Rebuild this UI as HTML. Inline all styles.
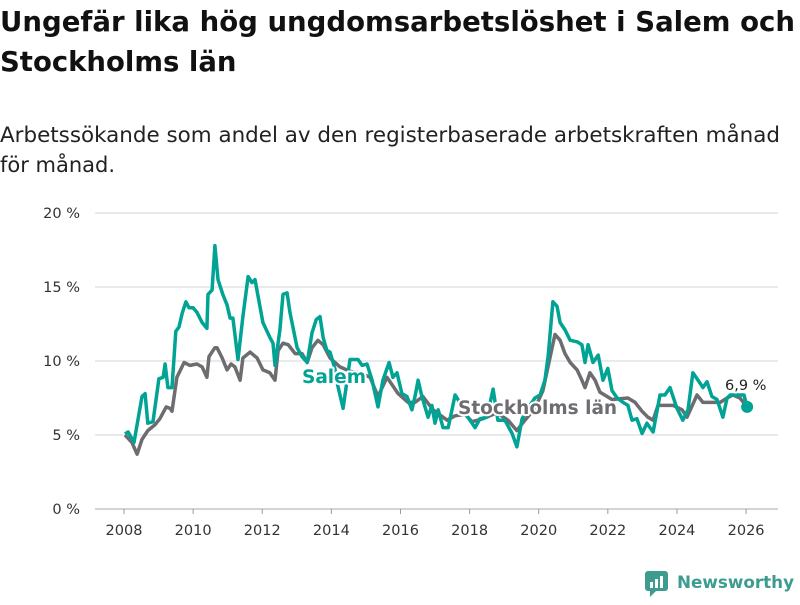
<!DOCTYPE html>
<html><head><meta charset="utf-8"><style>
body{margin:0;background:#fff;width:800px;height:600px;overflow:hidden;font-family:"Liberation Sans","DejaVu Sans",sans-serif}
</style></head><body>
<svg width="800" height="600" viewBox="0 0 800 600" style="font-family:'DejaVu Sans','Liberation Sans',sans-serif">
<text x="0" y="31" font-size="27.5" font-weight="bold" fill="#111" textLength="795" lengthAdjust="spacingAndGlyphs">Ungefär lika hög ungdomsarbetslöshet i Salem och</text>
<text x="0" y="71" font-size="27.5" font-weight="bold" fill="#111">Stockholms län</text>
<text x="0" y="142" font-size="21" fill="#222" textLength="780" lengthAdjust="spacingAndGlyphs">Arbetssökande som andel av den registerbaserade arbetskraften månad</text>
<text x="0" y="172" font-size="21" fill="#222">för månad.</text>
<g id="grid"></g>
<g id="yaxis"></g>
<g id="xaxis"></g>
<g id="series"></g>
<g id="labels"></g>
<g>
<rect x="645" y="571" width="23" height="20" rx="3" fill="#3d9b8f"/>
<polygon points="650,591 656,591 650,597" fill="#3d9b8f"/>
<rect x="650" y="582" width="3" height="6" fill="#fff"/><rect x="655" y="579" width="3" height="9" fill="#fff"/><rect x="660" y="576" width="3" height="12" fill="#fff"/>
<text x="677" y="588" font-size="17" font-weight="bold" fill="#3d9b8f" textLength="117" lengthAdjust="spacingAndGlyphs">Newsworthy</text>
</g>
</svg>
<script>
const yTicks=[0,5,10,15,20];
const yTickLabels=["0 %","5 %","10 %","15 %","20 %"];
const xTicks=[2008,2010,2012,2014,2016,2018,2020,2022,2024,2026];
const salemT=[2008.03,2008.12,2008.29,2008.52,2008.61,2008.69,2008.84,2009.01,2009.13,2009.19,2009.27,2009.39,2009.5,2009.59,2009.68,2009.79,2009.88,2010.0,2010.11,2010.26,2010.4,2010.43,2010.55,2010.63,2010.72,2010.86,2010.98,2011.07,2011.15,2011.3,2011.44,2011.59,2011.7,2011.79,2012.02,2012.22,2012.31,2012.37,2012.51,2012.6,2012.72,2012.8,2013.01,2013.15,2013.3,2013.44,2013.56,2013.67,2013.76,2013.87,2013.96,2014.1,2014.19,2014.34,2014.54,2014.77,2014.89,2015.03,2015.18,2015.35,2015.49,2015.67,2015.78,2015.9,2016.04,2016.19,2016.33,2016.42,2016.51,2016.62,2016.8,2016.91,2017.0,2017.09,2017.23,2017.38,2017.58,2017.72,2017.87,2017.95,2018.16,2018.3,2018.5,2018.68,2018.82,2019.02,2019.23,2019.37,2019.52,2019.69,2019.89,2020.04,2020.18,2020.27,2020.41,2020.53,2020.62,2020.76,2020.91,2021.11,2021.25,2021.34,2021.43,2021.57,2021.72,2021.86,2022.0,2022.12,2022.27,2022.44,2022.58,2022.7,2022.84,2022.99,2023.13,2023.31,2023.51,2023.65,2023.8,2024.0,2024.17,2024.32,2024.46,2024.67,2024.75,2024.87,2025.01,2025.16,2025.33,2025.45,2025.54,2025.94,2026.03];
const salemV=[5.07,5.2,4.5,7.6,7.8,5.8,5.9,8.8,8.9,9.8,8.2,8.2,12,12.3,13.2,14,13.6,13.6,13.3,12.6,12.2,14.5,14.8,17.8,15.5,14.5,13.8,12.9,12.9,10.1,13,15.7,15.3,15.5,12.6,11.6,11.2,9.7,12.1,14.5,14.6,13.3,10.9,10.3,9.9,11.9,12.8,13,11.6,10.7,10.6,9.5,8.3,6.8,10.1,10.1,9.7,9.8,8.7,6.9,8.7,9.9,8.9,9.2,7.8,7.6,6.7,7.6,8.7,7.6,6.2,7,5.8,6.7,5.5,5.5,7.7,7.2,6.4,6.2,5.5,6.1,6.2,8.1,6,6,5.1,4.2,6.1,6.8,7.5,7.7,8.7,10.3,14,13.7,12.6,12.1,11.4,11.3,11.1,9.9,11.1,9.9,10.4,8.7,9.5,8.0,7.5,7.2,7.0,6,6.1,5.1,5.8,5.2,7.7,7.7,8.2,6.8,6,6.7,9.2,8.5,8.2,8.6,7.6,7.4,6.2,7.5,7.7,7.7,6.9];
const sthlmT=[2008.03,2008.23,2008.38,2008.52,2008.69,2008.9,2009.04,2009.22,2009.33,2009.39,2009.53,2009.74,2009.91,2010.11,2010.26,2010.4,2010.46,2010.63,2010.69,2010.84,2010.98,2011.1,2011.21,2011.36,2011.44,2011.65,2011.85,2012.02,2012.22,2012.37,2012.46,2012.6,2012.75,2012.95,2013.15,2013.3,2013.44,2013.61,2013.76,2013.96,2014.25,2014.54,2014.83,2015.12,2015.35,2015.61,2015.93,2016.22,2016.42,2016.65,2016.94,2017.35,2017.58,2017.87,2018.07,2018.39,2018.79,2019.11,2019.37,2019.6,2019.89,2020.12,2020.47,2020.62,2020.76,2020.91,2021.11,2021.25,2021.34,2021.48,2021.63,2021.77,2022.12,2022.58,2022.79,2022.99,2023.16,2023.31,2023.45,2023.89,2024.15,2024.29,2024.58,2024.75,2025.25,2025.45,2025.62,2025.82,2026.03];
const sthlmV=[5,4.5,3.7,4.7,5.3,5.7,6.1,6.9,6.8,6.6,8.9,9.9,9.7,9.8,9.6,8.9,10.3,10.9,10.9,10.2,9.4,9.8,9.6,8.7,10.2,10.6,10.2,9.4,9.2,8.7,10.7,11.2,11.1,10.5,10.5,9.9,10.9,11.4,11.1,10.2,9.6,9.3,9.2,8.9,7.6,8.9,7.8,7.2,7.2,7.6,6.7,6,6.3,6.4,5.9,6.1,6.5,6,5.3,6,6.8,8,11.8,11.4,10.5,9.9,9.4,8.7,8.2,9.2,8.7,7.9,7.4,7.5,7.2,6.6,6.2,6,7,7,6.7,6.2,7.7,7.2,7.2,7.5,7.7,7.5,6.9];
const NS='http://www.w3.org/2000/svg';
const X=t=>124+(t-2008)*34.56, Y=v=>509-v*14.8;
function mk(tag,attrs,parent){const e=document.createElementNS(NS,tag);for(const k in attrs)e.setAttribute(k,attrs[k]);document.getElementById(parent).appendChild(e);return e;}
yTicks.forEach((v,i)=>{
  const g=mk('line',{x1:95,x2:778,y1:Y(v),y2:Y(v),stroke:v===0?'#bbb':'#ddd','stroke-width':1.3},'grid');
  
  
  const t=mk('text',{x:80,y:Y(v)+5,'text-anchor':'end','font-size':14.5,fill:'#333'},'yaxis');
  t.textContent=yTickLabels[i];
  
  
});
xTicks.forEach(yr=>{
  const tk=mk('line',{x1:X(yr),x2:X(yr),y1:509,y2:514,stroke:'#999'},'xaxis');
  
  
  const t=mk('text',{x:X(yr),y:535,'text-anchor':'middle','font-size':14.5,fill:'#333'},'xaxis');
  t.textContent=yr;
  
  
});
function line(T,V,color,name){
  const d=T.map((t,i)=>(i?'L':'M')+X(t).toFixed(1)+','+Y(V[i]).toFixed(1)).join('');
  const p=mk('path',{d:d,fill:'none',stroke:color,'stroke-width':3.5,'stroke-linejoin':'round'},'series');
  
  
}
line(sthlmT,sthlmV,'#6d6c70','stockholm-line');
line(salemT,salemV,'#00a394','salem-line');
const dot=mk('circle',{cx:X(salemT[salemT.length-1]),cy:Y(salemV[salemV.length-1]),r:6,fill:'#00a394'},'series');


function lab(x,y,txt,color,name,size,bold){
  const t=mk('text',{x:x,y:y,'font-size':size,'font-weight':bold?'bold':'normal',fill:color,stroke:'#fff','stroke-width':4,'paint-order':'stroke','stroke-linejoin':'round'},'labels');
  t.textContent=txt;
  
  
}
lab(302,383,'Salem','#00a394','salem-label',18.5,true);
lab(458,414,'Stockholms län','#6d6c70','stockholm-label',18.5,true);
lab(725,390,'6,9 %','#222','end-value-label',14.5,false);
</script>
</body></html>
